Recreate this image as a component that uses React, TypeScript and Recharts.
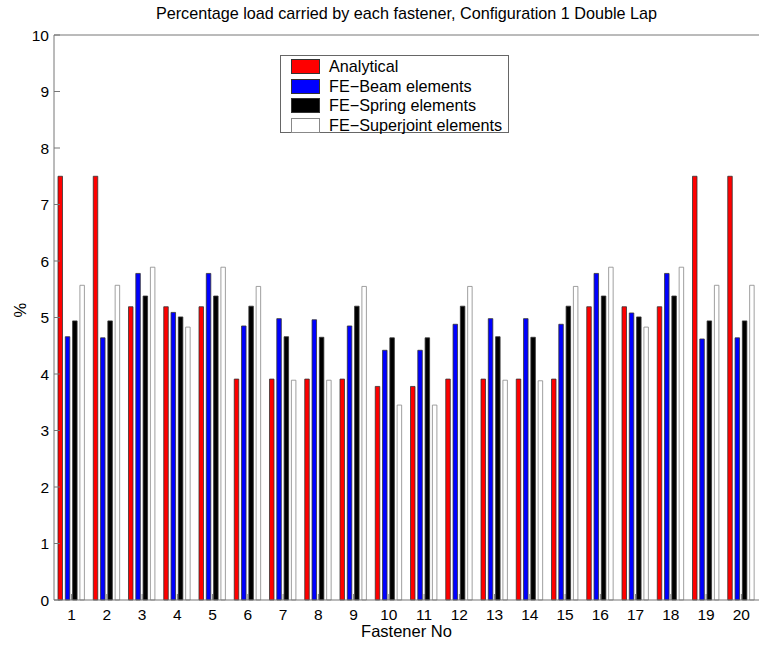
import { Bar, BarChart, ReferenceLine, XAxis, YAxis } from "recharts";

const fasteners = ["1","2","3","4","5","6","7","8","9","10","11","12","13","14","15","16","17","18","19","20"];
const analytical = [7.5, 7.5, 5.19, 5.19, 5.19, 3.91, 3.91, 3.91, 3.91, 3.78, 3.78, 3.91, 3.91, 3.91, 3.91, 5.19, 5.19, 5.19, 7.5, 7.5];
const feBeam = [4.66, 4.64, 5.78, 5.09, 5.78, 4.85, 4.98, 4.96, 4.85, 4.42, 4.42, 4.88, 4.98, 4.98, 4.88, 5.78, 5.08, 5.78, 4.62, 4.64];
const feSpring = [4.94, 4.94, 5.38, 5.01, 5.38, 5.2, 4.66, 4.65, 5.2, 4.64, 4.64, 5.2, 4.66, 4.65, 5.2, 5.38, 5.01, 5.38, 4.94, 4.94];
const feSuperjoint = [5.57, 5.57, 5.89, 4.83, 5.89, 5.55, 3.89, 3.89, 5.55, 3.45, 3.45, 5.55, 3.89, 3.88, 5.55, 5.89, 4.83, 5.89, 5.57, 5.57];
const yTicks = [0, 1, 2, 3, 4, 5, 6, 7, 8, 9, 10];

const series = [
  { key: "analytical", name: "Analytical", fill: "#ff0000", stroke: "#333" },
  { key: "beam", name: "FE\u2212Beam elements", fill: "#0000ff", stroke: "#333" },
  { key: "spring", name: "FE\u2212Spring elements", fill: "#000000", stroke: "#333" },
  { key: "superjoint", name: "FE\u2212Superjoint elements", fill: "#ffffff", stroke: "#888" },
];

const data = fasteners.map((name, i) => ({
  name,
  analytical: analytical[i],
  beam: feBeam[i],
  spring: feSpring[i],
  superjoint: feSuperjoint[i],
}));

const FONT = "'Liberation Sans', Arial, Helvetica, sans-serif";
const AXIS = "#777";

const YTick = ({ x, y, payload }: any) => (
  <g>
    <line x1={x} y1={y} x2={x + 6} y2={y} stroke={AXIS} />
    <text x={x - 5} y={y} dy={5.5} textAnchor="end" fontSize={15.5} fill="#000" fontFamily={FONT}>
      {payload.value}
    </text>
  </g>
);

const BottomTick = ({ x, y, payload }: any) => (
  <g>
    <line x1={x} y1={y} x2={x} y2={y - 6} stroke={AXIS} />
    <text x={x} y={y + 20} textAnchor="middle" fontSize={15.5} fill="#000" fontFamily={FONT}>
      {payload.value}
    </text>
  </g>
);

const TopTick = ({ x, y }: any) => <line x1={x} y1={y} x2={x} y2={y + 6} stroke={AXIS} />;

// legend drawn as an overlay so it does not push the plot area down
const LegendBox = () => (
  <div
    style={{
      position: "absolute",
      left: 280,
      top: 55,
      width: 229,
      height: 78,
      boxSizing: "border-box",
      border: "1px solid #666",
      background: "#fff",
      padding: "1px 0 0 10px",
      fontFamily: FONT,
      fontSize: 16.2,
      lineHeight: "19.5px",
    }}
  >
    {series.map((s) => (
      <div key={s.key} style={{ display: "flex", alignItems: "center", whiteSpace: "nowrap" }}>
        <span
          style={{
            display: "inline-block",
            width: 29,
            height: 15,
            boxSizing: "border-box",
            background: s.fill,
            border: `1px solid ${s.key === "superjoint" ? "#888" : "#333"}`,
            marginRight: 9,
          }}
        />
        {s.name}
      </div>
    ))}
  </div>
);

export default function App() {
  return (
    <div style={{ position: "absolute", left: 0, top: 0, width: 760, height: 646, background: "#fff" }}>
      <div
        style={{
          position: "absolute",
          left: 54,
          width: 705,
          top: 4,
          textAlign: "center",
          fontFamily: FONT,
          fontSize: 16.2,
          whiteSpace: "nowrap",
        }}
      >
        Percentage load carried by each fastener, Configuration 1 Double Lap
      </div>
      <BarChart
        width={760}
        height={646}
        data={data}
        margin={{ top: 35, right: 1, bottom: 0, left: 0 }}
        barSize={4.5}
        barGap={2.8}
      >
        <XAxis
          dataKey="name"
          height={46}
          stroke={AXIS}
          tickSize={0}
          tickMargin={0}
          tickLine={false}
          tick={<BottomTick />}
          interval={0}
          label={{ value: "Fastener No", position: "insideBottom", offset: 9, fill: "#000", fontSize: 16.5, fontFamily: FONT }}
        />
        <XAxis
          xAxisId="top"
          dataKey="name"
          orientation="top"
          height={0}
          stroke={AXIS}
          tickSize={0}
          tickMargin={0}
          tickLine={false}
          tick={<TopTick />}
          interval={0}
        />
        <YAxis
          width={54}
          domain={[0, 10]}
          ticks={yTicks}
          stroke={AXIS}
          tickSize={0}
          tickMargin={0}
          tickLine={false}
          tick={<YTick />}
          interval={0}
          label={{ value: "%", angle: -90, position: "insideLeft", offset: 20, fill: "#000", fontSize: 16.5, fontFamily: FONT }}
        />
        <ReferenceLine y={10} stroke={AXIS} />
        {series.map((s) => (
          <Bar
            key={s.key}
            dataKey={s.key}
            name={s.name}
            fill={s.fill}
            stroke={s.stroke}
            strokeWidth={0.8}
            isAnimationActive={false}
          />
        ))}
      </BarChart>
      <LegendBox />
    </div>
  );
}
